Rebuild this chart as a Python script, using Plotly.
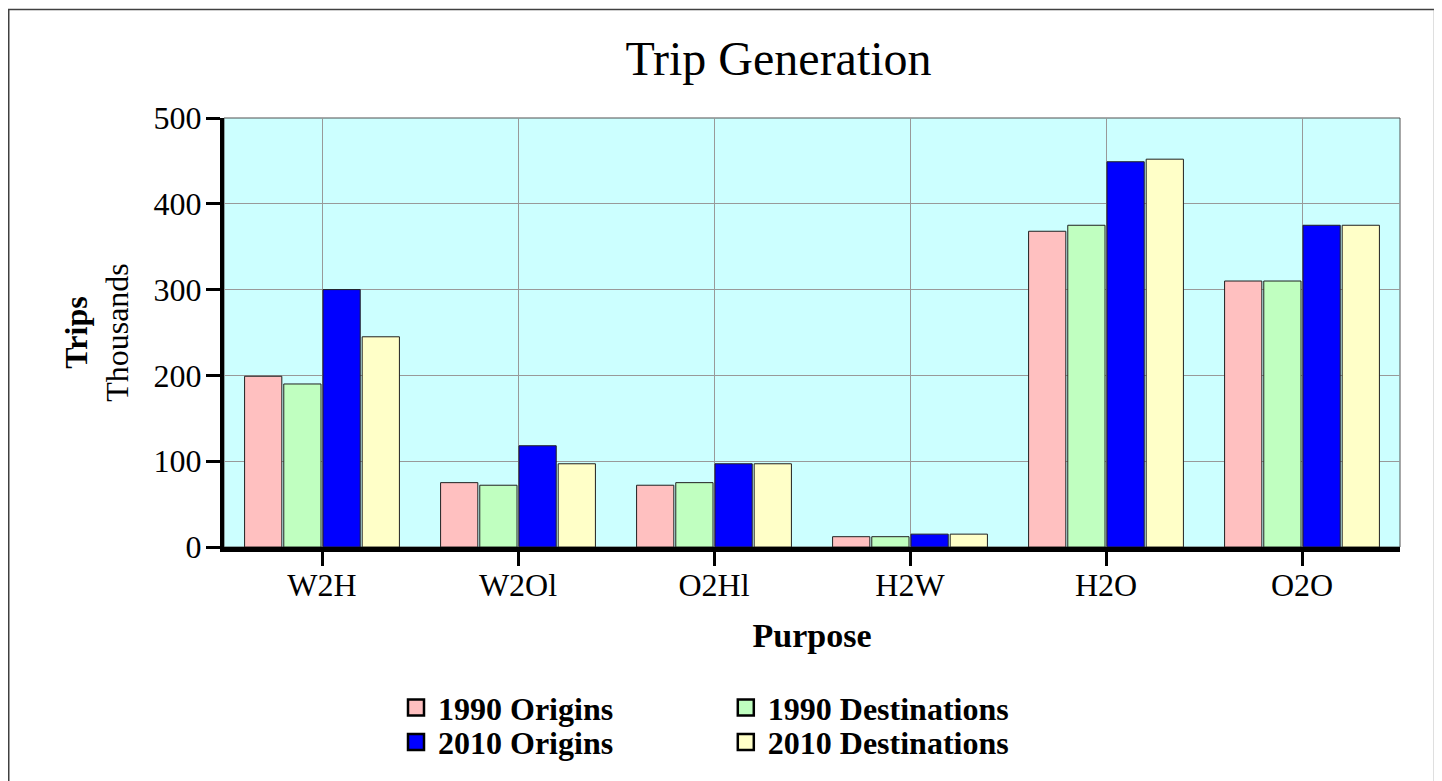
import plotly.graph_objects as go

categories = ["W2H", "W2Ol", "O2Hl", "H2W", "H2O", "O2O"]
series_names = ["1990 Origins", "1990 Destinations", "2010 Origins", "2010 Destinations"]
origins_1990 = [199, 75, 72, 12, 368, 310]
destinations_1990 = [190, 72, 75, 12, 375, 310]
origins_2010 = [300, 118, 97, 15, 449, 375]
destinations_2010 = [245, 97, 97, 15, 452, 375]
y_ticks = [0, 100, 200, 300, 400, 500]

series_values = [origins_1990, destinations_1990, origins_2010, destinations_2010]
colors = ["#FFC0C0", "#C0FFC0", "#0000FF", "#FFFFC8"]
legend_ids = ["legend", "legend2", "legend3", "legend4"]

SERIF = "Liberation Serif, Times New Roman, serif"

fig = go.Figure()
for name, vals, col in zip(series_names, series_values, colors):
    fig.add_trace(go.Bar(
        x=categories, y=vals, name=name, showlegend=False,
        marker=dict(color=col, line=dict(color="#202020", width=1)),
    ))
# legend entries (larger square swatches)
for name, col, lg in zip(series_names, colors, legend_ids):
    fig.add_trace(go.Scatter(
        x=[None], y=[None], mode="markers", name=name, legend=lg,
        marker=dict(symbol="square", size=16, color=col,
                    line=dict(color="black", width=2.5)),
        hoverinfo="skip",
    ))

# page is offset by the 8px body margin
W, H = 1434, 773
L, R, T, B = 216, 42, 110, 232
pw, ph = W - L - R, H - T - B

def px_x(x):
    return (x - L) / pw

def px_y(y):
    return (H - B - y) / ph

legend_font = dict(family=SERIF, size=32, color="black", weight="bold")

def legend_box(x_sym, y_row):
    return dict(orientation="v", x=px_x(x_sym - 21.5), xanchor="left",
                y=px_y(y_row), yanchor="middle", font=legend_font,
                bgcolor="rgba(0,0,0,0)", itemwidth=34, tracegroupgap=0)

fig.update_layout(
    width=W, height=H,
    margin=dict(l=L, r=R, t=T, b=B, pad=0),
    paper_bgcolor="white",
    plot_bgcolor="#CCFFFF",
    barmode="group",
    bargap=0.2,
    bargroupgap=0.05,
    font=dict(family=SERIF, color="black"),
    title=dict(text="Trip Generation", font=dict(family=SERIF, size=48, color="black"),
               x=px_x(770.5), xref="paper", xanchor="center",
               y=1 - 50 / H, yref="container", yanchor="middle"),
    xaxis=dict(
        showline=True, linewidth=5, linecolor="black",
        ticks="outside", ticklen=14, tickwidth=3, tickcolor="black",
        showgrid=True, gridcolor="#999999", gridwidth=1,
        tickfont=dict(family=SERIF, size=32, color="black"),
        ticklabelstandoff=-8,
        title=dict(text="<b>Purpose</b>", font=dict(family=SERIF, size=34, color="black"),
                   standoff=22),
    ),
    yaxis=dict(
        range=[0, 500], tickvals=y_ticks,
        showline=True, linewidth=4, linecolor="black",
        ticks="outside", ticklen=14, tickwidth=3, tickcolor="black",
        showgrid=True, gridcolor="#999999", gridwidth=1, zeroline=False,
        tickfont=dict(family=SERIF, size=32, color="black"),
        ticklabelstandoff=-2,
        title=dict(text="<b>Trips</b><br>Thousands", font=dict(family=SERIF, size=32, color="black"),
                   standoff=16),
    ),
    legend=legend_box(407.5, 702.5),
    legend2=legend_box(737.3, 702.5),
    legend3=legend_box(407.5, 737),
    legend4=legend_box(737.3, 737),
    shapes=[
        # thin frame around plot area
        dict(type="rect", xref="paper", yref="paper", x0=0, x1=1, y0=0, y1=1,
             line=dict(color="#505050", width=1), layer="below"),
        # outer chart frame
        dict(type="line", xref="paper", yref="paper", x0=px_x(0.75), x1=px_x(0.75), y0=px_y(1), y1=px_y(800),
             line=dict(color="#404040", width=1.5)),
        dict(type="line", xref="paper", yref="paper", x0=px_x(0), x1=px_x(1427), y0=px_y(1), y1=px_y(1),
             line=dict(color="#404040", width=1.5)),
        dict(type="line", xref="paper", yref="paper", x0=px_x(1427), x1=px_x(1427), y0=px_y(1), y1=px_y(800),
             line=dict(color="#808080", width=2.5)),
    ],
)

fig.write_html("out.html")
